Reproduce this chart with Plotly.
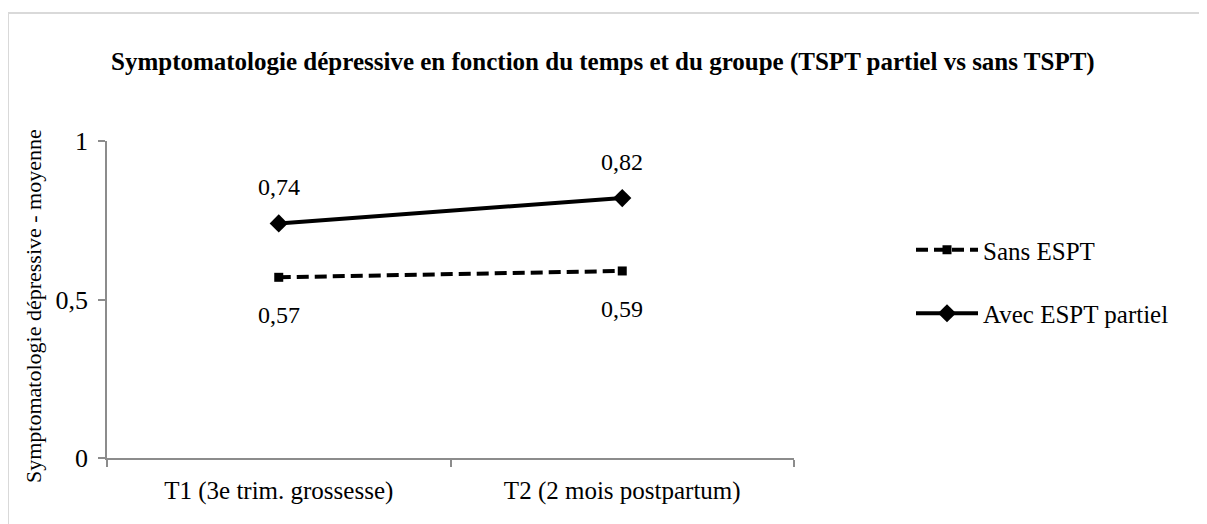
import plotly.graph_objects as go

categories = ["T1 (3e trim. grossesse)", "T2 (2 mois postpartum)"]
sans_espt = [0.57, 0.59]
avec_espt = [0.74, 0.82]
sans_labels = ["0,57", "0,59"]
avec_labels = ["0,74", "0,82"]

FONT = "Liberation Serif, Times New Roman, serif"
OFF = 8  # page body margin
W, H = 1207 - OFF, 524 - OFF
# plot area in page pixels
L, R, T, B = 107 - OFF, 794 - OFF, 141 - OFF, 458 - OFF

pw = R - L
ph = B - T


def px(x):
    return (x - OFF - L) / pw


def py(y):
    return (B - (y - OFF)) / ph


fig = go.Figure()
fig.add_trace(go.Scatter(
    x=categories, y=sans_espt, name="Sans ESPT", mode="lines+markers",
    line=dict(color="black", width=4, dash="12px,6px"),
    marker=dict(symbol="square", size=9, color="black"),
    legendgroup="a",
))
fig.add_trace(go.Scatter(
    x=categories, y=avec_espt, name="Avec ESPT partiel", mode="lines+markers",
    line=dict(color="black", width=4),
    marker=dict(symbol="diamond", size=14, color="black"),
    legendgroup="b",
))

annotations = []
for c, v, t in zip(categories, avec_espt, avec_labels):
    annotations.append(dict(x=c, y=v, text=t, showarrow=False, yshift=36,
                            xanchor="center", yanchor="middle",
                            font=dict(family=FONT, size=24, color="black")))
for c, v, t in zip(categories, sans_espt, sans_labels):
    annotations.append(dict(x=c, y=v, text=t, showarrow=False, yshift=-38,
                            xanchor="center", yanchor="middle",
                            font=dict(family=FONT, size=24, color="black")))

annotations.append(dict(
    x=px(33), y=py(306), xref="paper", yref="paper", showarrow=False,
    xanchor="center", yanchor="middle",
    text="Symptomatologie dépressive - moyenne", textangle=-90,
    font=dict(family=FONT, size=22, color="black"),
))
annotations.append(dict(
    x=px(603), y=py(62), xref="paper", yref="paper", showarrow=False,
    xanchor="center", yanchor="middle",
    text="<b>Symptomatologie dépressive en fonction du temps et du groupe (TSPT partiel vs sans TSPT)</b>",
    font=dict(family=FONT, size=25, color="black"),
))

fig.update_layout(
    width=W, height=H,
    margin=dict(l=L, r=W - R, t=T, b=H - B, pad=0),
    paper_bgcolor="white", plot_bgcolor="white",
    separators=", ",
    showlegend=True,
    legend=dict(
        x=px(911), y=py(227), xanchor="left", yanchor="top",
        font=dict(family=FONT, size=25, color="black"),
        tracegroupgap=28, traceorder="grouped", itemwidth=62,
        bgcolor="rgba(0,0,0,0)",
    ),
    xaxis=dict(
        type="category", range=[-0.5, 1.5], tickson="boundaries",
        showline=True, linecolor="#8c8c8c", linewidth=1.5,
        ticks="outside", ticklen=7, tickcolor="#8c8c8c", tickwidth=1.5,
        showgrid=False, zeroline=False, ticklabelstandoff=9,
        tickfont=dict(family=FONT, size=25, color="black"),
    ),
    yaxis=dict(
        range=[0, 1], tickvals=[0, 0.5, 1], ticktext=["0", "0,5", "1"],
        showline=True, linecolor="#8c8c8c", linewidth=1.5,
        ticks="outside", ticklen=7, tickcolor="#8c8c8c", tickwidth=1.5,
        showgrid=False, zeroline=False, ticklabelstandoff=5,
        tickfont=dict(family=FONT, size=26, color="black"),
    ),
    annotations=annotations,
    shapes=[dict(
        type="rect", xref="paper", yref="paper",
        x0=px(8), y0=py(540), x1=px(1225), y1=py(13),
        line=dict(color="#d9d9d9", width=2), fillcolor="rgba(0,0,0,0)",
        layer="below",
    )],
)

fig.write_html("out.html")
